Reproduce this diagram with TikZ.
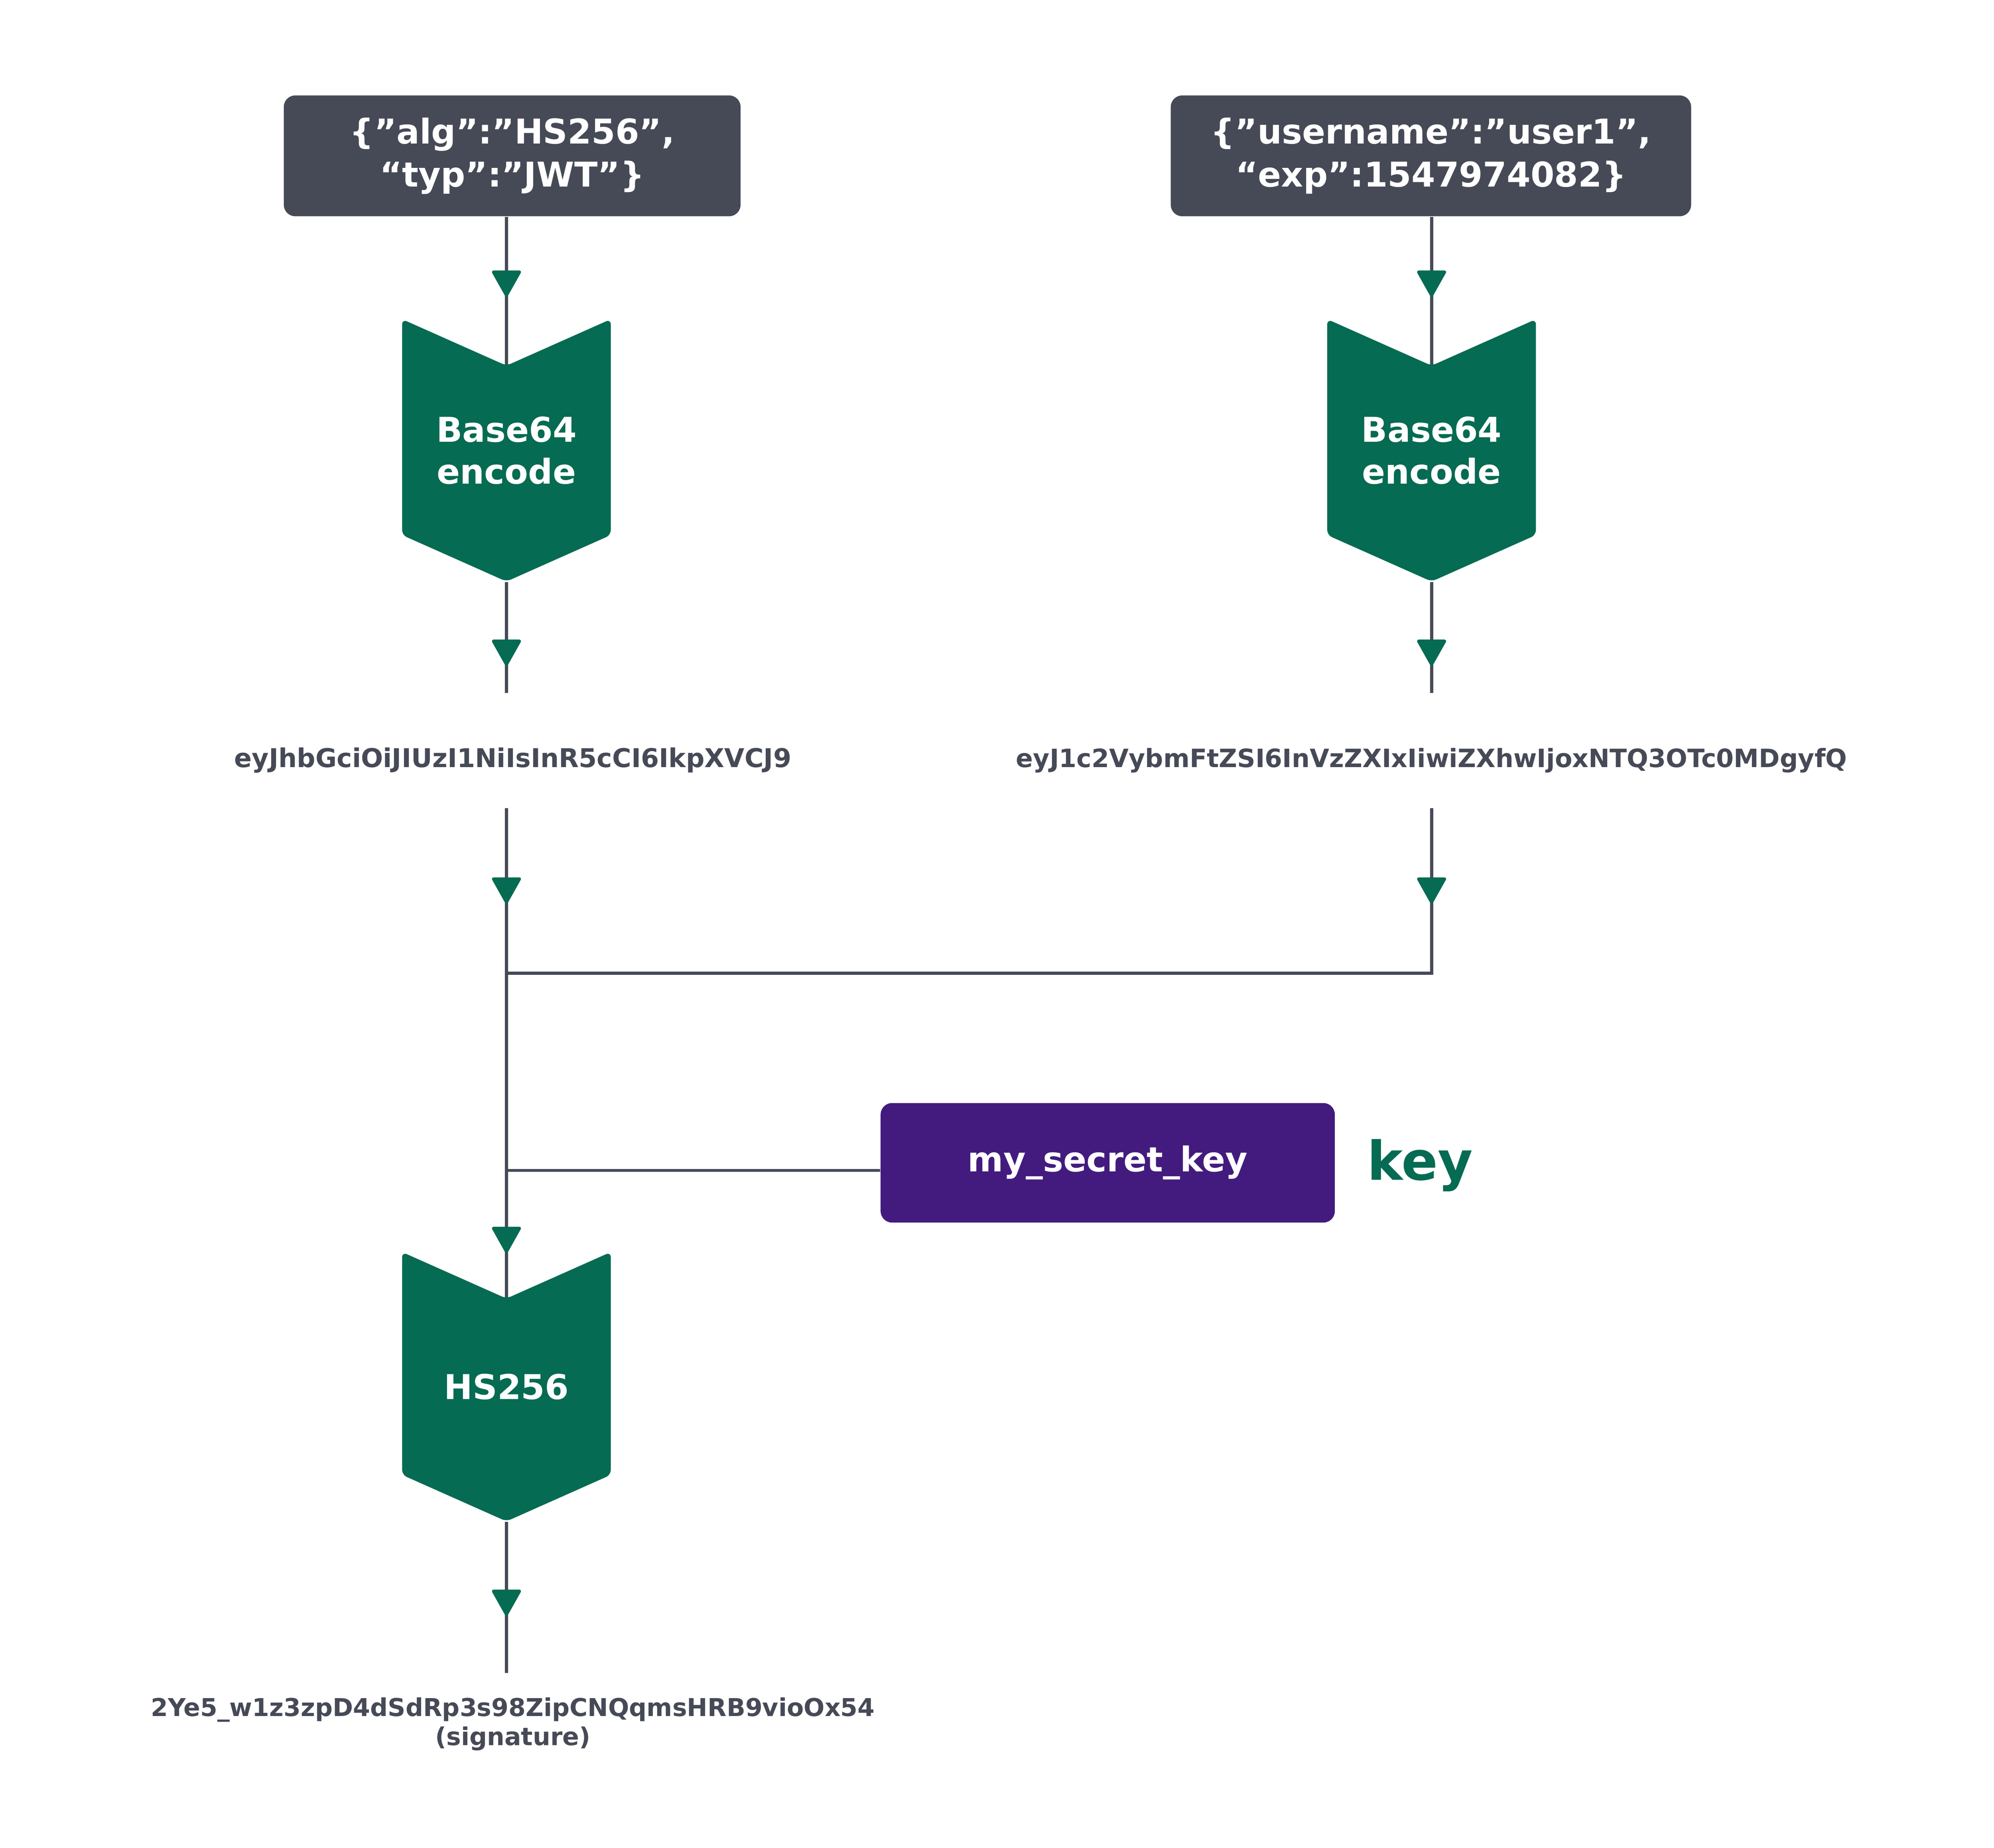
\documentclass[tikz,border=0pt]{standalone}
\usepackage{fontspec}
\setmainfont{DejaVu Sans}
\usetikzlibrary{arrows.meta,shapes.symbols,decorations.markings,backgrounds}
\definecolor{slate}{HTML}{464A57}
\definecolor{jwtgreen}{HTML}{056B52}
\definecolor{keypurple}{HTML}{431B7E}
\tikzset{
  jsonbox/.style={fill=slate, text=white, rounded corners=0.18cm, align=center,
    minimum height=1.9cm, font=\fontsize{15.3}{19.3}\selectfont\bfseries},
  stepshape/.style={signal, signal from=north, signal to=south, signal pointer angle=132,
    fill=jwtgreen, text=white, rounded corners=0.08cm, minimum width=3.28cm,
    minimum height=3.75cm, align=center, font=\fontsize{15.3}{18.8}\selectfont\bfseries},
  hashtxt/.style={text=slate, inner sep=0pt, anchor=base, text height=1.16cm,
    text depth=0.64cm, font=\fontsize{11.6}{13}\selectfont\bfseries},
  link/.style={slate, line width=1.36pt},
  tipat/.style={postaction={decorate}, decoration={markings,
    mark=at position #1 with {\arrow{Triangle[width=0.48cm, length=0.44cm, round, color=jwtgreen, fill=jwtgreen]}}}},
}
\begin{document}
\begin{tikzpicture}[x=0.02cm, y=-0.02cm]
  \useasboundingbox (0,0) rectangle (1567,1452.4);
  % inputs
  \node[jsonbox, minimum width=7.18cm] (hdr) at (402.5,122.5) {\{”alg”:”HS256”,\\“typ”:”JWT”\}};
  \node[jsonbox, minimum width=8.18cm] (pay) at (1124.5,122.5) {\{”username”:”user1”,\\“exp”:1547974082\}};
  % base64 steps
  \node[stepshape] (enchdr) at (398,354) {Base64\\encode};
  \node[stepshape] (encpay) at (1125,354) {Base64\\encode};
  \node[hashtxt] (hdrb64) at (403,603) {eyJhbGciOiJIUzI1NiIsInR5cCI6IkpXVCJ9};
  \node[hashtxt, font=\fontsize{11.3}{13}\selectfont\bfseries] (payb64) at (1125,603) {eyJ1c2VybmFtZSI6InVzZXIxIiwiZXhwIjoxNTQ3OTc0MDgyfQ};
  \coordinate (join) at (398,765);
  % secret and signing
  \node[jsonbox, fill=keypurple, minimum width=7.14cm, minimum height=1.88cm] (secret) at (870.5,914) {my\_secret\_key};
  \node[text=jwtgreen, font=\fontsize{24}{28}\selectfont\bfseries] (keylbl) at (1116,916) {key};
  \node[stepshape] (hmac) at (398,1090) {HS256};
  \node[text=slate, align=center, anchor=north, inner ysep=0.38cm,
    font=\fontsize{11}{13}\selectfont\bfseries] (sig) at (403,1315)
    {2Ye5\_w1z3zpD4dSdRp3s98ZipCNQqmsHRB9vioOx54\\(signature)};
  \begin{scope}[on background layer]
    \fill[white] (0,0) rectangle (1567,1452.4);
    \draw[link, tipat=1.26cm] (hdr.south -| enchdr) -- (enchdr.north);
    \draw[link, tipat=1.26cm] (pay.south -| encpay) -- (encpay.north);
    \draw[link, tipat=1.32cm] (enchdr.south) -- (enchdr.south |- hdrb64.north);
    \draw[link, tipat=1.32cm] (encpay.south) -- (payb64.north);
    \draw[link, tipat=1.5cm] (hdrb64.south -| join) -- (join);
    \draw[link, tipat=1.5cm] (payb64.south) |- (join);
    \draw[link, tipat=4.4cm] (join) -- (hmac.north);
    \draw[link] ([yshift=-0.12cm]secret.west) -- ([yshift=-0.12cm]secret.west -| join);
    \draw[link, tipat=1.48cm] (hmac.south) -- (sig.north -| hmac);
  \end{scope}
\end{tikzpicture}
\end{document}
